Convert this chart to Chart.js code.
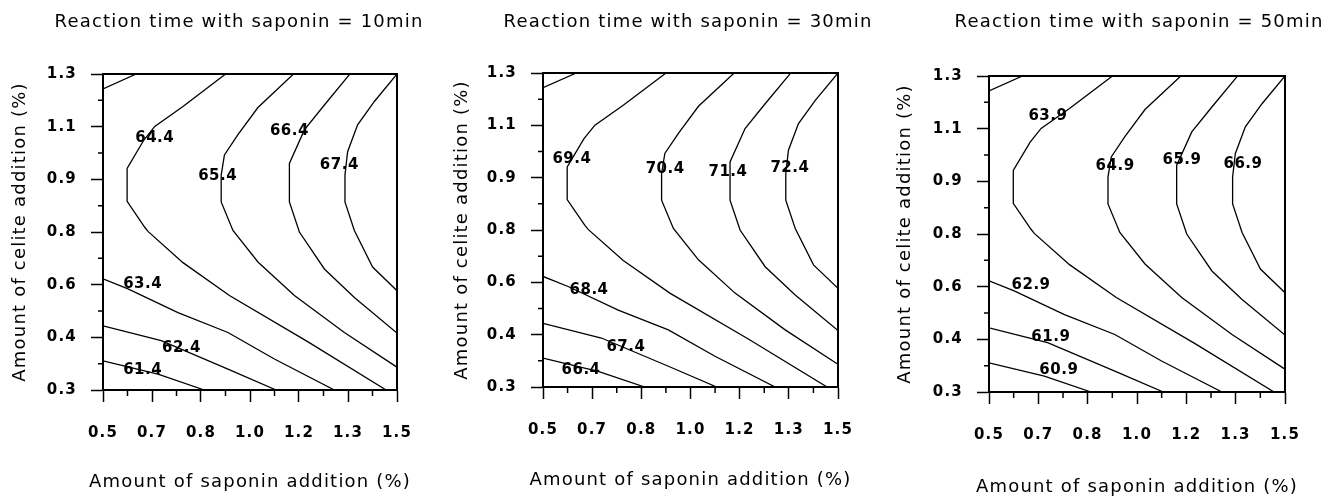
<!DOCTYPE html>
<html>
<head>
<meta charset="utf-8">
<script src="https://cdn.jsdelivr.net/npm/chart.js@4"></script>
<style>
  html, body { margin: 0; padding: 0; background: #fff; overflow: hidden; width: 1339px; height: 498px; }
  canvas { position: absolute; top: 0; }
</style>
</head>
<body>
<canvas id="c10" width="478" height="498" style="left:0px"></canvas>
<canvas id="c30" width="496" height="498" style="left:440px"></canvas>
<canvas id="c50" width="506" height="498" style="left:886px"></canvas>
<script>
// panel titles and axis labels
const titles = [
    'Reaction time with saponin = 10min',
    'Reaction time with saponin = 30min',
    'Reaction time with saponin = 50min'
];
const xTitle = 'Amount of saponin addition (%)';
const yTitle = 'Amount of celite addition (%)';
const xTickLabels = ['0.5', '0.7', '0.8', '1.0', '1.2', '1.3', '1.5'];
const yTickLabels = ['0.3', '0.4', '0.6', '0.8', '0.9', '1.1', '1.3'];

// contour levels of each panel, lowest first
const levels10 = [61.4, 62.4, 63.4, 64.4, 65.4, 66.4, 67.4];
const levels30 = [66.4, 67.4, 68.4, 69.4, 70.4, 71.4, 72.4];
const levels50 = [60.9, 61.9, 62.9, 63.9, 64.9, 65.9, 66.9];

// contour paths (saponin %, celite %), same shape in all three panels
const contourCorner = [[0.5, 1.253], [0.613, 1.3]];
const contour1 = [[0.5, 0.392], [0.687, 0.35], [0.845, 0.3]];
const contour2 = [[0.5, 0.503], [0.698, 0.456], [0.925, 0.366], [1.089, 0.3]];
const contour3 = [[0.5, 0.652], [0.585, 0.62], [0.755, 0.545], [0.925, 0.482], [1.083, 0.398], [1.287, 0.3]];
const contour4 = [[0.917, 1.3], [0.772, 1.197], [0.676, 1.134], [0.639, 1.091], [0.582, 1.001], [0.582, 0.897],
                  [0.642, 0.815], [0.653, 0.802], [0.772, 0.703], [0.93, 0.599], [1.196, 0.453], [1.463, 0.3]];
const contour5 = [[1.148, 1.3], [1.027, 1.194], [0.959, 1.108], [0.913, 1.044], [0.902, 0.98], [0.902, 0.895],
                  [0.942, 0.805], [1.027, 0.705], [1.151, 0.599], [1.321, 0.482], [1.497, 0.374]];
const contour6 = [[1.338, 1.298], [1.253, 1.202], [1.185, 1.123], [1.134, 1.017], [1.134, 0.895],
                  [1.168, 0.8], [1.253, 0.683], [1.355, 0.593], [1.5, 0.48]];
const contour7 = [[1.5, 1.3], [1.423, 1.213], [1.366, 1.139], [1.332, 1.054], [1.323, 0.98], [1.323, 0.895],
                  [1.355, 0.805], [1.417, 0.689], [1.5, 0.614]];

// where each level's label sits, same order as the levels
const labelPos10 = [[0.635, 0.364], [0.767, 0.433], [0.635, 0.634], [0.676, 1.098], [0.89, 0.977], [1.134, 1.12], [1.304, 1.012]];
const labelPos30 = [[0.629, 0.354], [0.781, 0.427], [0.656, 0.609], [0.598, 1.026], [0.914, 0.994], [1.127, 0.985], [1.337, 0.997]];
const labelPos50 = [[0.736, 0.37], [0.709, 0.474], [0.642, 0.639], [0.699, 1.173], [0.926, 1.015], [1.152, 1.034], [1.358, 1.022]];

const FONT = '"DejaVu Sans", sans-serif';
const xTickVals = Array.from({length: 13}, (_, i) => 0.5 + i / 12);
const yTickVals = Array.from({length: 13}, (_, i) => 0.3 + i / 12);

// plotter-like wide lettering
const spacing = {
    id: 'spacing',
    beforeLayout(chart) { chart.ctx.letterSpacing = '1.2px'; },
    beforeDraw(chart) { chart.ctx.letterSpacing = '1.2px'; }
};

// frame, minor ticks, x title and contour labels
const extras = {
    id: 'extras',
    afterDraw(chart) {
        const ctx = chart.ctx, a = chart.chartArea;
        const xs = chart.scales.x, ys = chart.scales.y;
        const opts = chart.options.plugins.extras;
        ctx.save();
        ctx.strokeStyle = '#000';
        ctx.lineWidth = 1.5;
        ctx.beginPath();
        xTickVals.forEach((v, i) => {
            if (i % 2) {
                const p = xs.getPixelForValue(v);
                ctx.moveTo(p, a.bottom);
                ctx.lineTo(p, a.bottom + 6);
            }
        });
        yTickVals.forEach((v, i) => {
            if (i % 2) {
                const p = ys.getPixelForValue(v);
                ctx.moveTo(a.left, p);
                ctx.lineTo(a.left - 5, p);
            }
        });
        ctx.stroke();
        ctx.lineWidth = 2;
        ctx.strokeRect(a.left, a.top, a.right - a.left, a.bottom - a.top);

        ctx.fillStyle = '#000';
        ctx.textAlign = 'center';
        ctx.textBaseline = 'middle';
        ctx.font = '18px ' + FONT;
        ctx.letterSpacing = '1.2px';
        ctx.fillText(xTitle, (a.left + a.right) / 2, opts.xTitleY);

        ctx.font = 'bold 15px ' + FONT;
        ctx.letterSpacing = '0.5px';
        opts.levels.forEach((lv, i) => {
            const [x, y] = opts.labelPos[i];
            ctx.fillText(lv.toFixed(1), xs.getPixelForValue(x), ys.getPixelForValue(y));
        });
        ctx.restore();
    }
};

function makeChart(id, title, levels, labelPos, lay) {
    const paths = [contourCorner, contour1, contour2, contour3, contour4, contour5, contour6, contour7];
    const names = ['corner'].concat(levels.map(v => v.toFixed(1)));
    const datasets = paths.map((p, i) => ({
        label: names[i],
        data: p.map(([x, y]) => ({x, y})),
        showLine: true,
        borderColor: '#000',
        borderWidth: 1.3,
        pointRadius: 0,
        tension: 0,
        fill: false
    }));

    const tickGrid = {
        drawOnChartArea: false,
        tickLength: 12,
        tickWidth: 1.5,
        tickColor: c => (c.index % 2 ? 'rgba(0,0,0,0)' : '#000')
    };

    return new Chart(document.getElementById(id), {
        type: 'scatter',
        data: {datasets},
        options: {
            responsive: false,
            animation: false,
            layout: {padding: 0},
            plugins: {
                legend: {display: false},
                tooltip: {enabled: false},
                title: {
                    display: true,
                    text: title,
                    color: '#000',
                    font: {family: FONT, size: 18, weight: 'normal'},
                    padding: {top: lay.titleTop, bottom: lay.titleBottom}
                },
                extras: {levels, labelPos, xTitleY: lay.xTitleY}
            },
            scales: {
                x: {
                    type: 'linear',
                    min: 0.5,
                    max: 1.5,
                    afterBuildTicks: s => { s.ticks = xTickVals.map(v => ({value: v})); },
                    afterFit: s => { s.height = lay.xHeight; },
                    ticks: {
                        autoSkip: false,
                        maxRotation: 0,
                        padding: 22,
                        color: '#000',
                        font: {family: FONT, size: 15, weight: 'bold'},
                        callback: (v, i) => (i % 2 ? '' : xTickLabels[i / 2])
                    },
                    grid: tickGrid,
                    border: {color: '#000', width: 2}
                },
                y: {
                    type: 'linear',
                    min: 0.3,
                    max: 1.3,
                    afterBuildTicks: s => { s.ticks = yTickVals.map(v => ({value: v})); },
                    afterFit: s => { s.width = 103; },
                    ticks: {
                        autoSkip: false,
                        padding: 14,
                        color: '#000',
                        font: {family: FONT, size: 15, weight: 'bold'},
                        callback: (v, i) => (i % 2 ? '' : yTickLabels[i / 2])
                    },
                    grid: tickGrid,
                    border: {color: '#000', width: 2},
                    title: {
                        display: true,
                        text: yTitle,
                        color: '#000',
                        font: {family: FONT, size: 18, weight: 'normal'},
                        padding: {top: lay.yTitleTop, bottom: 0}
                    }
                },
                // empty right margin so the title centres over the whole panel
                yRight: {
                    type: 'linear',
                    position: 'right',
                    min: 0,
                    max: 1,
                    afterFit: s => { s.width = lay.right; },
                    ticks: {display: false},
                    grid: {display: false},
                    border: {display: false}
                }
            }
        },
        plugins: [spacing, extras]
    });
}

makeChart('c10', titles[0], levels10, labelPos10,
    {right: 81, titleTop: 11.2, titleBottom: 41.2, xHeight: 108, xTitleY: 482, yTitleTop: 9.2});
makeChart('c30', titles[1], levels30, labelPos30,
    {right: 98, titleTop: 11.2, titleBottom: 40.2, xHeight: 111, xTitleY: 480, yTitleTop: 11.2});
makeChart('c50', titles[2], levels50, labelPos50,
    {right: 107, titleTop: 11.2, titleBottom: 43.2, xHeight: 106, xTitleY: 487, yTitleTop: 8.2});
</script>
</body>
</html>
